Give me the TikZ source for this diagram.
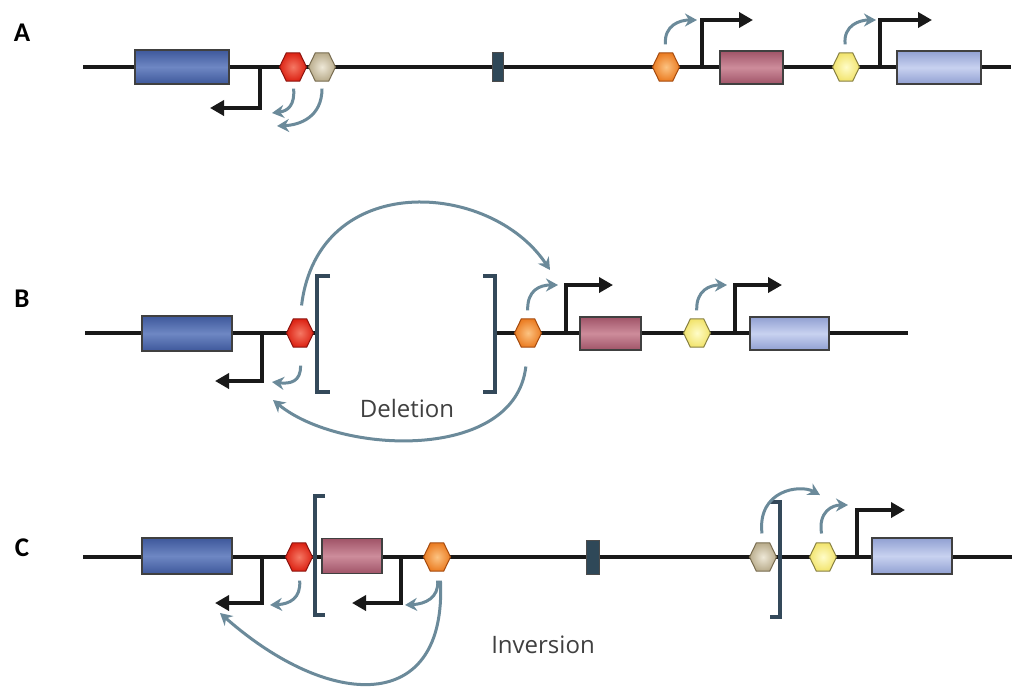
\documentclass[tikz,border=0pt]{standalone}
\usepackage{fontspec}
\newfontfamily\labfont{Carlito}
\newfontfamily\txtfont{Open Sans}
\usetikzlibrary{arrows.meta,shapes.geometric}
\definecolor{actc}{HTML}{6B8A9A}
\definecolor{brkc}{HTML}{34495A}
\definecolor{blkc}{HTML}{2F4858}
\definecolor{txtc}{HTML}{404040}
\begin{document}
\begin{tikzpicture}[x=1pt,y=-1pt,
  dna/.style={line width=4.5pt, draw=black!90},
  gene/.style={draw=black!75, line width=1.2pt, inner sep=0pt},
  bluegene/.style={gene, top color={rgb,255:red,62;green,88;blue,155}, bottom color={rgb,255:red,62;green,88;blue,155}, middle color={rgb,255:red,110;green,135;blue,195}},
  maroongene/.style={gene, top color={rgb,255:red,160;green,84;blue,104}, bottom color={rgb,255:red,160;green,84;blue,104}, middle color={rgb,255:red,205;green,140;blue,155}},
  lbluegene/.style={gene, top color={rgb,255:red,145;green,160;blue,210}, bottom color={rgb,255:red,145;green,160;blue,210}, middle color={rgb,255:red,200;green,210;blue,240}},
  hex/.style={regular polygon, regular polygon sides=6, minimum size=27pt, inner sep=0pt, line width=1pt, yscale=1.2, transform shape},
  redhex/.style={hex, draw={rgb,255:red,140;green,20;blue,15}, inner color={rgb,255:red,245;green,120;blue,100}, outer color={rgb,255:red,220;green,35;blue,20}},
  tanhex/.style={hex, draw={rgb,255:red,120;green,108;blue,80}, inner color={rgb,255:red,238;green,232;blue,215}, outer color={rgb,255:red,185;green,172;blue,140}},
  orhex/.style={hex, draw={rgb,255:red,165;green,75;blue,15}, inner color={rgb,255:red,252;green,195;blue,130}, outer color={rgb,255:red,235;green,125;blue,35}},
  yehex/.style={hex, draw={rgb,255:red,135;green,128;blue,65}, inner color={rgb,255:red,255;green,252;blue,200}, outer color={rgb,255:red,242;green,228;blue,110}},
  blk/.style={draw=black!70, fill=blkc, line width=0.8pt, inner sep=0pt},
  prom/.style={line width=3.6pt, draw=black!90, -{Triangle[length=14pt,width=15pt]}},
  act/.style={line width=3pt, draw=actc, -{Stealth[length=12pt,width=13pt]}},
  brk/.style={line width=3.2pt, draw=brkc},
  lab/.style={font=\labfont\bfseries\fontsize{27}{30}\selectfont, text=black},
  txt/.style={font=\txtfont\fontsize{24}{28}\selectfont, text=txtc}]
\useasboundingbox (0,0) rectangle (1027,691);
\fill[white] (0,0) rectangle (1027,691);

% labels
\node[lab] (la) at (22,33) {A};
\node[lab] (lb) at (22,299) {B};
\node[lab] (lc) at (22,548) {C};

% ---------- Row A ----------
\coordinate (A0) at (83,67); \coordinate (A1) at (1011,67);
\draw[dna] (A0) -- (A1);
\coordinate (pA1) at (260,67); \coordinate (pA1e) at (210,108);
\coordinate (pA2) at (702,67); \coordinate (pA2e) at (753,20);
\coordinate (pA3) at (880,67); \coordinate (pA3e) at (932,20);
\draw[prom] (pA1) |- (pA1e);
\draw[prom] (pA2) |- (pA2e);
\draw[prom] (pA3) |- (pA3e);
\node[bluegene, minimum width=94pt, minimum height=34pt] (Ab) at (182,67) {};
\node[maroongene, minimum width=63pt, minimum height=33pt] (Am) at (751.5,67.5) {};
\node[lbluegene, minimum width=84pt, minimum height=33pt] (Al) at (939,67.5) {};
\node[redhex] (Ar) at (293,67) {};
\node[tanhex] (At) at (322,67) {};
\node[blk, minimum width=11pt, minimum height=29pt] (Ak) at (498,67) {};
\node[orhex] (Ao) at (666,67) {};
\node[yehex] (Ay) at (846,67) {};
\coordinate (gA1) at (272,113);
\coordinate (gA2) at (277,126);
\coordinate (gA3) at (697,20);
\coordinate (gA4) at (876,20);
\draw[act, shorten <=7pt] (Ar.south) .. controls (295,105) and (288,111) .. (gA1);
\draw[act, shorten <=7pt] (At.south) .. controls (322,117) and (300,125) .. (gA2);
\draw[act, shorten <=8pt] (Ao.north) .. controls (664,25) and (680,20) .. (gA3);
\draw[act, shorten <=8pt] (Ay.north) .. controls (843,25) and (860,20) .. (gA4);

% ---------- Row B ----------
\coordinate (B0) at (85,333); \coordinate (B0e) at (317,333);
\coordinate (B1s) at (495,333); \coordinate (B1) at (908,333);
\draw[dna] (B0) -- (B0e);
\draw[dna] (B1s) -- (B1);
\coordinate (pB1) at (262,333); \coordinate (pB1e) at (215,381);
\coordinate (pB2) at (566,333); \coordinate (pB2e) at (613,285);
\coordinate (pB3) at (735,333); \coordinate (pB3e) at (782,285);
\draw[prom] (pB1) |- (pB1e);
\draw[prom] (pB2) |- (pB2e);
\draw[prom] (pB3) |- (pB3e);
\node[bluegene, minimum width=90pt, minimum height=35pt] (Bb) at (187,333.5) {};
\node[maroongene, minimum width=61pt, minimum height=33pt] (Bm) at (610.5,333.5) {};
\node[lbluegene, minimum width=79pt, minimum height=33pt] (Bl) at (789.5,333.5) {};
\node[redhex] (Br) at (300,333) {};
\node[orhex] (Bo) at (528,333) {};
\node[yehex] (By) at (697,333) {};
\draw[brk] (330,276) -- (317,276) -- (317,392) -- (330,392);
\draw[brk] (483,276) -- (495,276) -- (495,392) -- (483,392);
\coordinate (gB1) at (550,270);
\coordinate (gB2) at (272,382);
\coordinate (gB3) at (273,400);
\coordinate (gB4) at (558,285);
\coordinate (gB5) at (727,285);
\draw[act, shorten <=13pt] (Br.north) .. controls (318,170) and (490,180) .. (gB1);
\draw[act, shorten <=18pt] (Br.south) .. controls (301,382) and (290,384) .. (gB2);
\draw[act, shorten <=19pt] (Bo.south) .. controls (515,462) and (340,455) .. (gB3);
\draw[act, shorten <=8pt] (Bo.north) .. controls (527,290) and (540,285) .. (gB4);
\draw[act, shorten <=8pt] (By.north) .. controls (696,290) and (710,285) .. (gB5);
\node[txt] (del) at (407,408) {Deletion};

% ---------- Row C ----------
\coordinate (C0) at (83,557); \coordinate (C1) at (1012,557);
\draw[dna] (C0) -- (C1);
\coordinate (pC1) at (262,557); \coordinate (pC1e) at (215,603);
\coordinate (pC2) at (401,557); \coordinate (pC2e) at (352,603);
\coordinate (pC3) at (857,557); \coordinate (pC3e) at (905,510);
\draw[prom] (pC1) |- (pC1e);
\draw[prom] (pC2) |- (pC2e);
\draw[prom] (pC3) |- (pC3e);
\node[bluegene, minimum width=90pt, minimum height=36pt] (Cb) at (187,556) {};
\node[maroongene, minimum width=60pt, minimum height=35pt] (Cm) at (352,556) {};
\node[lbluegene, minimum width=80pt, minimum height=36pt] (Cl) at (912,556) {};
\node[redhex] (Cr) at (299,557) {};
\node[orhex] (Co) at (437,557) {};
\node[blk, minimum width=13pt, minimum height=34pt] (Ck) at (593,557) {};
\node[tanhex] (Ct) at (763,557) {};
\node[yehex] (Cy) at (823,557) {};
\draw[brk] (325,496) -- (315,496) -- (315,615) -- (325,615);
\draw[brk] (770,502) -- (780,502) -- (780,617) -- (770,617);
\coordinate (gC1) at (270,605);
\coordinate (gC2) at (405,605);
\coordinate (gC3) at (220,613);
\coordinate (gC4) at (820,495);
\coordinate (gC5) at (848,505);
\draw[act, shorten <=9pt] (Cr.south) .. controls (301,598) and (290,604) .. (gC1);
\draw[act, shorten <=9pt] (Co.south) .. controls (439,598) and (425,604) .. (gC2);
\draw[act, shorten <=9pt] ([xshift=3pt]Co.south) .. controls (447,715) and (330,710) .. (gC3);
\draw[act, shorten <=9pt] (Ct.north) .. controls (757,490) and (800,484) .. (gC4);
\draw[act, shorten <=9pt] (Cy.north) .. controls (818,512) and (832,505) .. (gC5);
\node[txt] (inv) at (543,645) {Inversion};
\end{tikzpicture}
\end{document}
